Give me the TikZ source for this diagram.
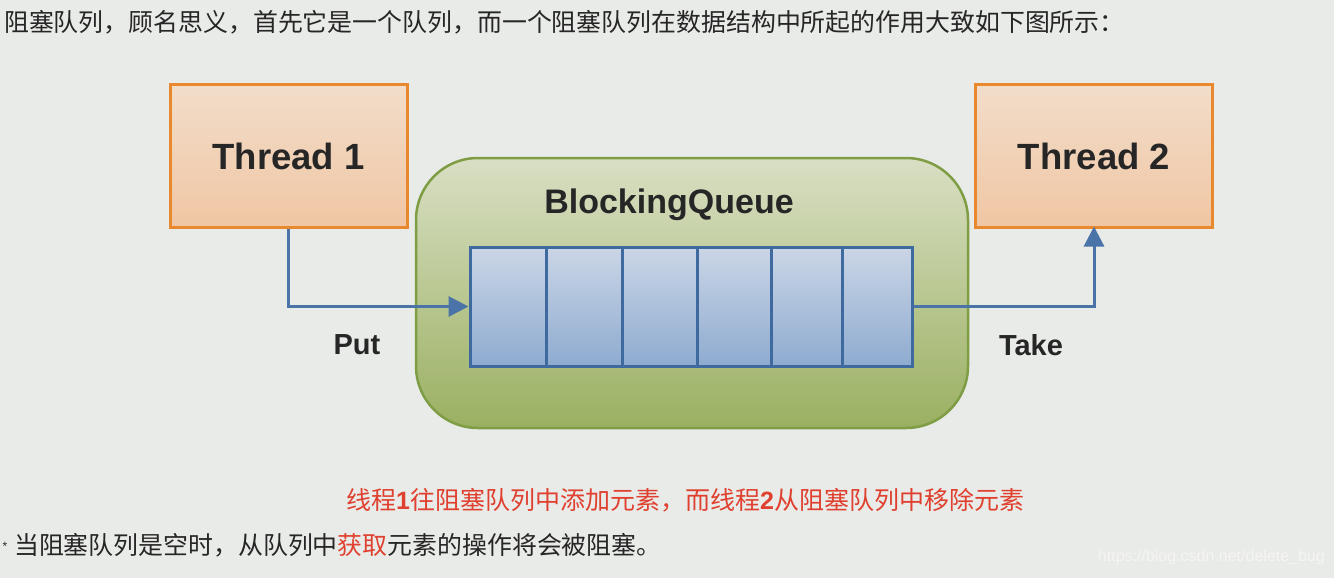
\documentclass[tikz,border=0pt]{standalone}
\usepackage{fontspec}
\setmainfont{Liberation Sans}
\newfontfamily\cjk{Noto Sans CJK SC}
\usetikzlibrary{arrows.meta}
\definecolor{bg}{HTML}{E9EBE8}
\definecolor{orbd}{HTML}{E8892F}
\definecolor{ortop}{HTML}{F2DDCA}
\definecolor{orbot}{HTML}{F0C6A3}
\definecolor{grbd}{HTML}{7E9D44}
\definecolor{grtop}{HTML}{D9DFC4}
\definecolor{grbot}{HTML}{9AB061}
\definecolor{cebd}{HTML}{3F6AA0}
\definecolor{cetop}{HTML}{CBD6E6}
\definecolor{cebot}{HTML}{8EABD0}
\definecolor{arr}{HTML}{4A73A8}
\definecolor{redtxt}{HTML}{E0402F}
\definecolor{txt}{HTML}{262626}
\tikzset{
  thread/.style={draw=orbd, line width=3pt, top color=ortop, bottom color=orbot,
    minimum width=237pt, minimum height=142pt, inner sep=0pt,
    font=\fontsize{36.5}{40}\selectfont\bfseries, text=black!85},
  queue/.style={draw=grbd, line width=2.5pt, top color=grtop, bottom color=grbot,
    rounded corners=62pt, minimum width=552pt, minimum height=270pt, inner sep=0pt},
  cell/.style={draw=cebd, line width=3pt, top color=cetop, bottom color=cebot,
    minimum height=119pt, inner sep=0pt},
  flow/.style={draw=arr, line width=3pt, -{Triangle[length=20pt,width=20pt]}},
  lbl/.style={font=\fontsize{29}{32}\selectfont\bfseries, text=black!85, inner sep=0pt},
  cjktext/.style={font=\cjk\fontsize{24.9}{28}\selectfont, inner sep=0pt, anchor=west},
}
\begin{document}
\begin{tikzpicture}[x=1pt,y=-1pt]
\fill[bg] (0,0) rectangle (1334,578);
\useasboundingbox (0,0) rectangle (1334,578);

\node[cjktext, text=txt] (intro) at (4,22) {阻塞队列，顾名思义，首先它是一个队列，而一个阻塞队列在数据结构中所起的作用大致如下图所示：};

\node[thread] (t1) at (288.5,156) {Thread 1};
\node[thread] (t2) at (1094,156) {Thread 2};

\node[queue] (bq) at (692,293) {};
\node[font=\fontsize{34}{38}\selectfont\bfseries, text=black!85, inner sep=0pt] (bqt) at (669,205) {BlockingQueue};

\node[cell, minimum width=76pt] (c1) at (508,306.5) {};
\node[cell, minimum width=76pt] (c2) at (584,306.5) {};
\node[cell, minimum width=75pt] (c3) at (659.5,306.5) {};
\node[cell, minimum width=74pt] (c4) at (734,306.5) {};
\node[cell, minimum width=71pt] (c5) at (806.5,306.5) {};
\node[cell, minimum width=70pt] (c6) at (877,306.5) {};

\draw[flow] (t1.south) |- (c1.west);
\draw[flow] (c6.east) -| ([yshift=2pt]t2.south);

\node[lbl] (put) at (357,345) {Put};
\node[lbl] (take) at (1031,345) {Take};

\node[cjktext, text=redtxt, font=\cjk\fontsize{25}{28}\selectfont] (red) at (346,500) {线程{\fontspec{Liberation Sans}\bfseries 1}往阻塞队列中添加元素，而线程{\fontspec{Liberation Sans}\bfseries 2}从阻塞队列中移除元素};

\node[font=\fontsize{12}{12}\selectfont, text=txt, inner sep=0pt] (star) at (5,546) {*};
\node[cjktext, text=txt] (note) at (14,545) {当阻塞队列是空时，从队列中{\color{redtxt}获取}元素的操作将会被阻塞。};

\node[font=\fontsize{16}{16}\selectfont, text=white!96!black, inner sep=0pt, anchor=east] (wm) at (1325,557) {https://blog.csdn.net/delete\_bug};
\end{tikzpicture}
\end{document}
